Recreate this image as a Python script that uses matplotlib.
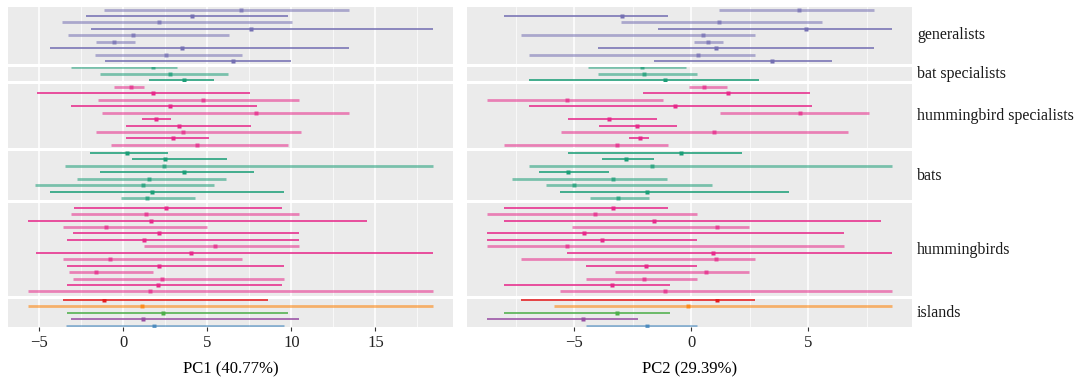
import matplotlib
matplotlib.use("Agg")
import matplotlib.pyplot as plt
from matplotlib.ticker import MultipleLocator

plt.rcParams['font.family'] = ['Liberation Serif', 'DejaVu Serif']

groups = ["generalists", "bat specialists", "hummingbird specialists", "bats", "hummingbirds", "islands"]

# PC1 (lo, est, hi) per group
pc1_lo = {
    "generalists": [-1.15, -2.23, -3.61, -1.89, -3.26, -1.59, -4.33, -1.67, -1.10],
    "bat specialists": [-3.08, -1.37, 1.55],
    "hummingbird specialists": [-0.54, -5.12, -1.51, -3.08, -1.23, 1.15, 0.20, -1.63, 0.20, -0.71],
    "bats": [-1.99, 0.53, -3.47, -1.39, -2.76, -5.26, -4.33, -0.12],
    "hummingbirds": [-2.90, -3.10, -5.64, -3.60, -3.00, -3.36, 1.27, -5.20, -3.60, -3.36, -3.24, -3.00, -3.36, -5.64],
    "islands": [-3.60, -5.64, -3.36, -3.12, -3.42],
}
pc1_est = {
    "generalists": [7.02, 4.07, 2.14, 7.58, 0.60, -0.56, 3.49, 2.56, 6.51],
    "bat specialists": [1.80, 2.80, 3.65],
    "hummingbird specialists": [0.45, 1.76, 4.74, 2.80, 7.88, 1.94, 3.31, 3.55, 2.99, 4.38],
    "bats": [0.21, 2.52, 2.46, 3.65, 1.55, 1.19, 1.73, 1.43],
    "hummingbirds": [2.54, 1.35, 1.64, -0.99, 2.14, 1.25, 5.45, 4.02, -0.76, 2.12, -1.59, 2.34, 2.10, 1.58],
    "islands": [-1.13, 1.13, 2.40, 1.17, 1.84],
}
pc1_hi = {
    "generalists": [13.45, 9.82, 10.02, 18.41, 6.31, 0.71, 13.45, 7.08, 10.00],
    "bat specialists": [3.21, 6.25, 5.43],
    "hummingbird specialists": [1.25, 7.56, 10.43, 7.98, 13.43, 2.82, 7.62, 10.60, 5.12, 9.82],
    "bats": [2.65, 6.17, 18.41, 7.76, 6.11, 5.39, 9.58, 4.30],
    "hummingbirds": [9.42, 10.45, 14.48, 5.00, 10.45, 10.45, 10.45, 18.41, 7.08, 9.58, 1.79, 9.58, 9.42, 18.41],
    "islands": [8.59, 18.41, 9.82, 10.45, 9.58],
}

# PC2 (lo, est, hi) per group
pc2_lo = {
    "generalists": [1.20, -7.99, -3.01, -1.44, -7.29, 0.10, -3.99, -6.95, -1.61],
    "bat specialists": [-4.40, -3.99, -6.95],
    "hummingbird specialists": [-0.09, -2.08, -8.72, -6.95, 1.22, -5.26, -3.95, -5.56, -2.65, -7.99],
    "bats": [-5.26, -3.82, -6.95, -6.52, -7.65, -6.20, -5.63, -4.32],
    "hummingbirds": [-7.99, -8.72, -7.99, -5.11, -8.72, -8.72, -8.72, -5.32, -7.29, -4.50, -3.28, -4.50, -7.99, -5.63],
    "islands": [-7.29, -5.87, -7.99, -8.72, -4.50],
}
pc2_est = {
    "generalists": [4.60, -2.98, 1.17, 4.90, 0.48, 0.70, 1.07, 0.28, 3.46],
    "bat specialists": [-2.09, -2.03, -1.14],
    "hummingbird specialists": [0.53, 1.58, -5.33, -0.70, 4.62, -3.50, -2.31, 0.95, -2.21, -3.19],
    "bats": [-0.44, -2.79, -1.70, -5.26, -3.35, -5.02, -1.90, -3.13],
    "hummingbirds": [-3.36, -4.13, -1.58, 1.08, -4.60, -3.82, -5.31, 0.91, 1.07, -1.94, 0.61, -2.04, -3.39, -1.13],
    "islands": [1.08, -0.15, -3.16, -4.63, -1.91],
}
pc2_hi = {
    "generalists": [7.78, -1.01, 5.57, 8.56, 2.73, 1.37, 7.78, 2.73, 6.02],
    "bat specialists": [-0.23, 0.24, 2.90],
    "hummingbird specialists": [1.54, 5.06, -1.23, 5.15, 7.59, -1.45, -0.60, 6.71, -1.82, -1.01],
    "bats": [2.15, -1.61, 8.56, -3.50, -1.04, 0.88, 4.17, -1.79],
    "hummingbirds": [-1.00, 0.23, 8.10, 2.46, 6.51, 0.23, 6.51, 8.56, 2.73, 0.23, 2.46, 0.23, -0.90, 8.56],
    "islands": [2.73, 8.56, -0.90, -2.26, 0.23],
}

# 1 = faded/thick interval, 0 = solid/thin interval
faded = {
    "generalists": [1, 0, 1, 0, 1, 1, 0, 1, 0],
    "bat specialists": [1, 1, 0],
    "hummingbird specialists": [1, 0, 1, 0, 1, 0, 0, 1, 0, 1],
    "bats": [0, 0, 1, 0, 1, 1, 0, 1],
    "hummingbirds": [0, 1, 0, 1, 0, 0, 1, 0, 1, 0, 1, 1, 0, 1],
    "islands": [0, 1, 0, 0, 1],
}

group_color = {
    "generalists": "#7570B3",
    "bat specialists": "#1B9E77",
    "hummingbird specialists": "#E7298A",
    "bats": "#1B9E77",
    "hummingbirds": "#E7298A",
}
island_colors = ["#E41A1C", "#FF7F00", "#4DAF4A", "#984EA3", "#377EB8"]

col_titles = ["PC1 (40.77%)", "PC2 (29.39%)"]
col_data = [(pc1_lo, pc1_est, pc1_hi), (pc2_lo, pc2_est, pc2_hi)]

W, H = 1080, 381
fig = plt.figure(figsize=(W / 100, H / 100), dpi=100)

top_px, bottom_px = 7, 327
gap_px = 3
col_px = [(8, 453), (467, 912)]
units = [max(len(pc1_est[g]) - 1, 1) * 1.1 for g in groups]
avail = (bottom_px - top_px) - gap_px * (len(groups) - 1)
per_unit = avail / sum(units)

bg = "#EBEBEB"

# shared x-limits per column
xlims = []
for lo_d, est_d, hi_d in col_data:
    mn = min(min(lo_d[g]) for g in groups)
    mx = max(max(hi_d[g]) for g in groups)
    r = mx - mn
    xlims.append((mn - 0.05 * r, mx + 0.05 * r))

y_cursor = top_px
for gi, g in enumerate(groups):
    h_px = units[gi] * per_unit
    n = len(pc1_est[g])
    for ci, (lo_d, est_d, hi_d) in enumerate(col_data):
        x0, x1 = col_px[ci]
        ax = fig.add_axes([x0 / W, 1 - (y_cursor + h_px) / H, (x1 - x0) / W, h_px / H])
        ax.set_facecolor(bg)
        for s in ax.spines.values():
            s.set_visible(False)
        ax.set_xlim(*xlims[ci])
        ax.xaxis.set_major_locator(MultipleLocator(5))
        ax.xaxis.set_minor_locator(MultipleLocator(2.5))
        ax.grid(which='major', axis='x', color='white', linewidth=1.1)
        ax.grid(which='minor', axis='x', color='white', linewidth=0.5)
        ax.set_axisbelow(True)
        ax.set_yticks([])
        for i in range(n):
            y = -i
            col = island_colors[i] if g == "islands" else group_color[g]
            if faded[g][i]:
                lw, al = 2.0, 0.55
            else:
                lw, al = 1.2, 0.95
            ax.plot([lo_d[g][i], hi_d[g][i]], [y, y], color=col, lw=lw, alpha=al,
                    solid_capstyle='butt', zorder=3)
            ax.plot([est_d[g][i]], [y], marker='s', ms=3.0, color=col, alpha=min(al + 0.2, 1),
                    mec='none', zorder=4)
        if n > 1:
            ax.set_ylim(-(n - 1) - 0.05 * (n - 1), 0.05 * (n - 1))
        else:
            ax.set_ylim(-0.5, 0.5)
        if gi == len(groups) - 1:
            ax.tick_params(axis='x', which='major', length=3, color='#333333', width=0.8,
                           labelsize=12, labelcolor='#222222', pad=3)
            ax.tick_params(axis='x', which='minor', length=0)
            for lab in ax.get_xticklabels():
                lab.set_fontfamily(['Liberation Serif', 'DejaVu Serif'])
            ax.set_xlabel(col_titles[ci], fontsize=12, labelpad=7, color='black')
        else:
            ax.tick_params(axis='x', which='both', length=0, labelbottom=False)
        if ci == 1:
            fig.text(917 / W, 1 - (y_cursor + h_px / 2) / H, g, fontsize=11.5,
                     ha='left', va='center', color='#1A1A1A')
    y_cursor += h_px + gap_px

fig.savefig("out.png", dpi=100, facecolor='white')
